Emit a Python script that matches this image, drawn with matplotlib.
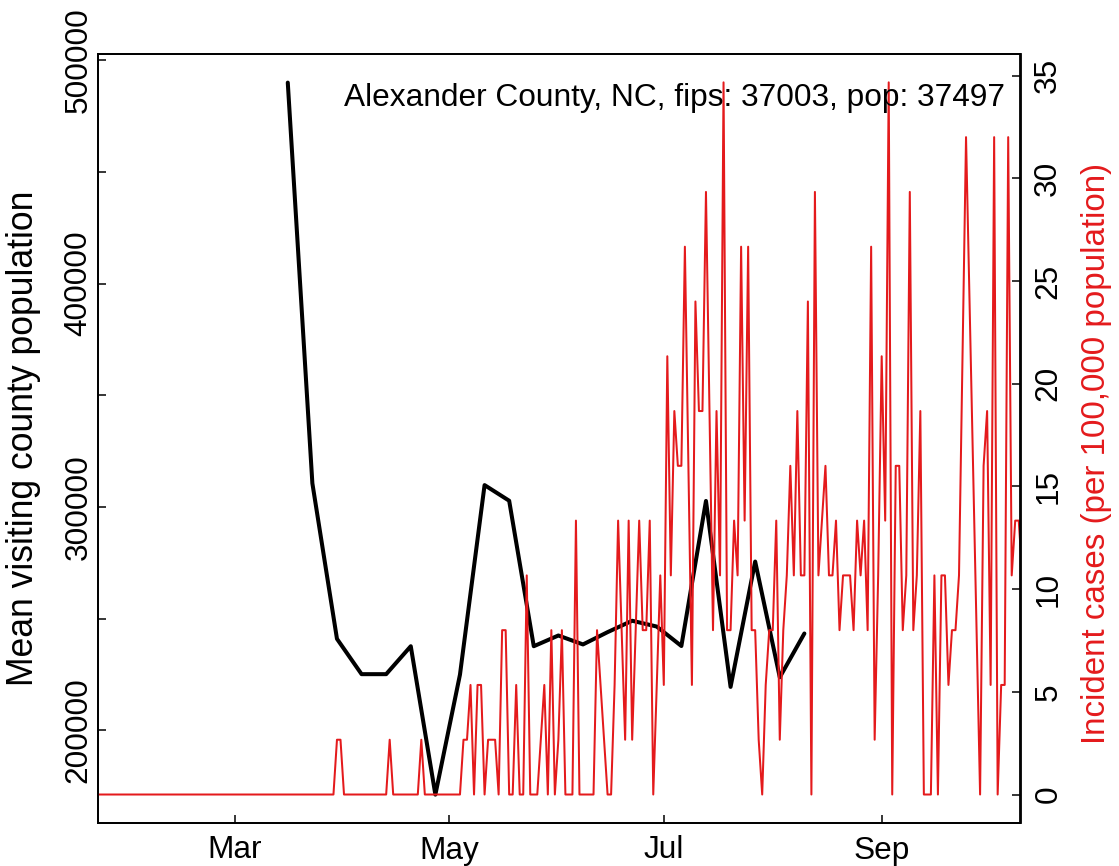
import matplotlib
matplotlib.use("Agg")
import matplotlib.pyplot as plt
import matplotlib.dates as mdates
import numpy as np
import pandas as pd

plt.rcParams['font.family'] = ['Liberation Sans', 'DejaVu Sans']

# ---------------- data ----------------
county_title = "Alexander County, NC, fips: 37003, pop: 37497"
population = 37497

case_start_date = "2020-01-22"
daily_cases = [
    0, 0, 0, 0, 0, 0, 0, 0, 0, 0, 0, 0, 0, 0, 0, 0, 0, 0, 0, 0,
    0, 0, 0, 0, 0, 0, 0, 0, 0, 0, 0, 0, 0, 0, 0, 0, 0, 0, 0, 0,
    0, 0, 0, 0, 0, 0, 0, 0, 0, 0, 0, 0, 0, 0, 0, 0, 0, 0, 0, 0,
    0, 0, 0, 0, 0, 0, 0, 0,
    1, 1,
    0, 0, 0, 0, 0, 0, 0, 0, 0, 0, 0, 0, 0,
    1,
    0, 0, 0, 0, 0, 0, 0, 0,
    1,
    0, 0, 0, 0, 0, 0, 0, 0, 0, 0, 0,
    1, 1, 2, 0, 2, 2, 0, 1, 1, 1, 0,
    3, 3, 0, 0, 2, 0, 0, 4, 0, 0, 0, 1, 2, 0, 3,
    0, 1, 3, 0, 0, 0, 5, 0, 0, 0, 0, 0, 3, 2, 1,
    0, 0, 2, 5, 3, 1, 5, 1, 3, 5, 3, 3, 5, 0, 2,
    4, 2, 8, 4, 7, 6, 6, 10, 6, 2, 9, 7, 7, 11, 7,
    3, 7, 4, 13, 3, 3, 5, 4, 10, 5, 10, 3, 3, 1, 0,
    2, 3, 3, 5, 1, 3, 4, 6, 4, 7, 4, 4, 9, 0, 11,
    4, 5, 6, 4, 4, 5, 3, 4, 4, 4, 3, 5, 4, 5, 3,
    10, 1, 4, 8, 5, 13, 0, 6, 6, 3, 4, 11, 3, 4, 7,
    0, 0, 0, 4, 0, 4, 4, 2, 3, 3, 4, 8, 12, 9, 6,
    3, 0, 6, 7, 2, 12, 0, 2, 2, 12, 4, 5, 5, 4,
]

visit_dates = [
    "2020-03-16", "2020-03-23", "2020-03-30", "2020-04-06", "2020-04-13",
    "2020-04-20", "2020-04-27", "2020-05-04", "2020-05-11", "2020-05-18",
    "2020-05-25", "2020-06-01", "2020-06-08", "2020-06-15", "2020-06-22",
    "2020-06-29", "2020-07-06", "2020-07-13", "2020-07-20", "2020-07-27",
    "2020-08-03", "2020-08-10",
]
visit_population = [
    489900, 310600, 241000, 225200, 225200,
    237700, 171300, 225000, 309800, 302800,
    237700, 242500, 238500, 244000, 249100,
    246500, 237800, 302700, 219500, 275600,
    223800, 243400,
]

left_ticks = [200000, 250000, 300000, 350000, 400000, 450000, 500000]
left_tick_labels = ["200000", "", "300000", "", "400000", "", "500000"]
right_ticks = [0, 5, 10, 15, 20, 25, 30, 35]
month_ticks = [3, 5, 7, 9]

# ---------------- figure ----------------
W, H = 1119, 866
fig = plt.figure(figsize=(W / 100, H / 100), dpi=100)
L, R, T, B = 98, 1020.5, 54, 823
ax1 = fig.add_axes([L / W, 1 - B / H, (R - L) / W, (B - T) / H])

red = "#E41A1C"
fs = 22.8

vd = pd.to_datetime(visit_dates)
ax1.plot(vd, visit_population, color="black", lw=2.9,
         solid_joinstyle="round", solid_capstyle="round", zorder=3)
ax1.set_ylim(158600, 502700)
ax1.set_xlim(pd.Timestamp("2020-01-22"), pd.Timestamp("2020-10-10 12:00"))

ax2 = ax1.twinx()
cd = pd.date_range(case_start_date, periods=len(daily_cases), freq="D")
incidence = np.array(daily_cases) / population * 100000
ax2.plot(cd, incidence, color=red, lw=1.45, solid_joinstyle="round")
ax2.set_ylim(-1.387, 36.05)
ax2.set_xlim(ax1.get_xlim())

# ticks
ax1.set_yticks(left_ticks)
ax1.set_yticklabels(left_tick_labels)
ax2.set_yticks(right_ticks)
ax2.set_yticklabels([str(t) for t in right_ticks])
ax1.xaxis.set_major_locator(mdates.MonthLocator(bymonth=month_ticks))
ax1.xaxis.set_major_formatter(mdates.DateFormatter("%b"))

for ax in (ax1, ax2):
    for s in ax.spines.values():
        s.set_linewidth(1.3)
    ax.tick_params(direction="in", length=6, width=1.1, labelsize=fs)

ax1.tick_params(axis="y", pad=14)
for lab in ax1.get_yticklabels():
    lab.set_rotation(90)
    lab.set_ha("center")
    lab.set_va("center")
ax2.tick_params(axis="y", pad=20)
for lab in ax2.get_yticklabels():
    lab.set_rotation(90)
    lab.set_ha("center")
    lab.set_va("center")
ax1.tick_params(axis="x", pad=9)

ax1.set_ylabel("Mean visiting county population", fontsize=25.6, va="center")
ax1.yaxis.set_label_coords((24 - L) / (R - L), 0.5)
ax2.set_ylabel("Incident cases (per 100,000 population)", fontsize=23.9,
               color=red, rotation=90, va="center")
ax2.yaxis.set_label_coords((1097 - L) / (R - L), (B - 453) / (B - T))

fig.text(1005 / W, 1 - 106 / H, county_title, fontsize=fs,
         ha="right", va="baseline")

fig.savefig("out.png", dpi=100)
